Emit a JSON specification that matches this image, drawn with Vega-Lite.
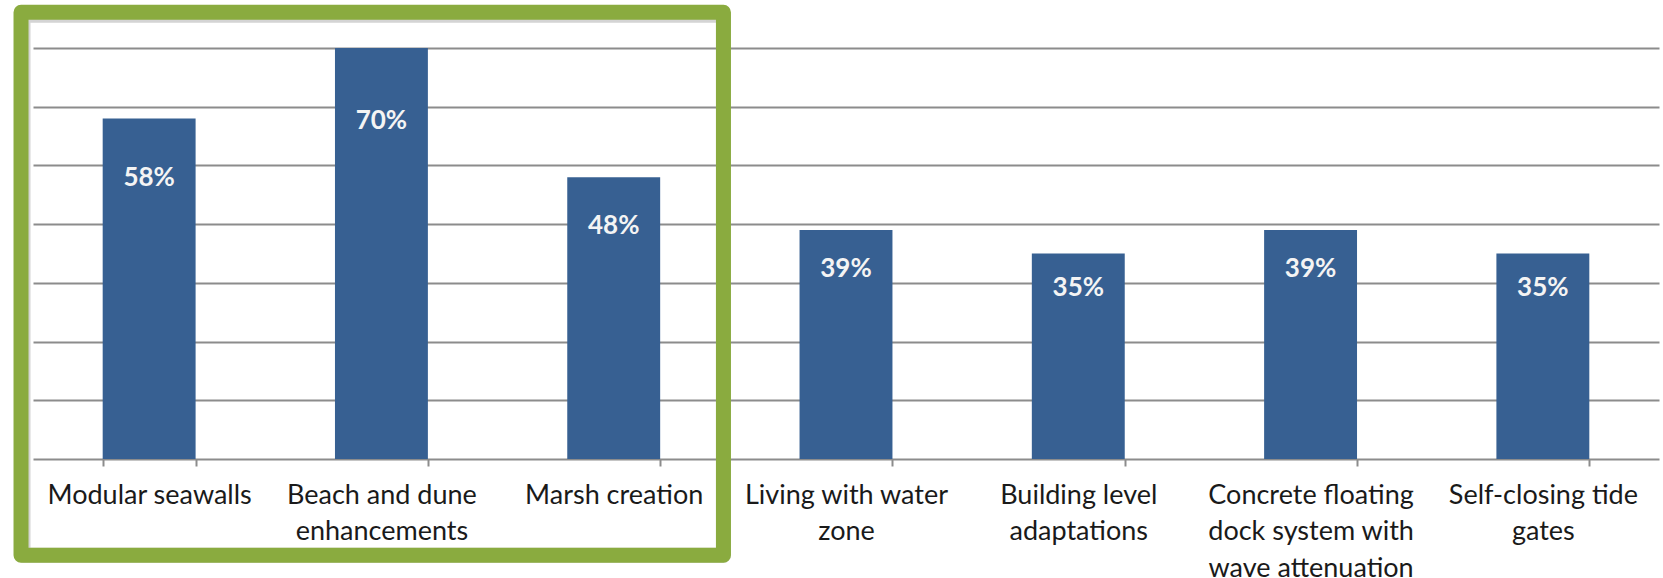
{
  "$schema": "https://vega.github.io/schema/vega-lite/v6.json",
  "width": 1626,
  "height": 411,
  "autosize": {"type": "none"},
  "padding": {"left": 33, "top": 48, "right": 4, "bottom": 119},
  "background": "white",
  "config": {"view": {"stroke": null}},
  "datasets": {
    "bars": [
      {"option": "Modular seawalls", "share": 0.58},
      {"option": "Beach and dune enhancements", "share": 0.70},
      {"option": "Marsh creation", "share": 0.48},
      {"option": "Living with water zone", "share": 0.39},
      {"option": "Building level adaptations", "share": 0.35},
      {"option": "Concrete floating dock system with wave attenuation", "share": 0.39},
      {"option": "Self-closing tide gates", "share": 0.35}
    ],
    "highlight": [
      {"from": "Modular seawalls", "to": "Marsh creation"}
    ]
  },
  "resolve": {"scale": {"y": "independent"}},
  "layer": [
    {
      "layer": [
        {
          "data": {"name": "bars"},
          "mark": {"type": "bar", "color": "#376092"},
          "encoding": {
            "x": {
              "field": "option",
              "type": "nominal",
              "sort": null,
              "scale": {
                "domain": ["Modular seawalls", "Beach and dune enhancements", "Marsh creation", "Living with water zone", "Building level adaptations", "Concrete floating dock system with wave attenuation", "Self-closing tide gates"],
                "paddingInner": 0.6,
                "paddingOuter": 0.3
              },
              "axis": {
                "title": null,
                "labelAngle": 0,
                "tickBand": "extent",
                "domainColor": "#8c8c8c",
                "domainWidth": 2,
                "tickColor": "#8c8c8c",
                "tickWidth": 2,
                "tickSize": 7,
                "labelPadding": 16,
                "labelFont": "Lato",
                "labelFontSize": 27,
                "labelColor": "#1a1a1a",
                "labelLineHeight": 36.5,
                "labelLimit": 0,
                "labelOverlap": false,
                "labelExpr": "datum.value == 'Beach and dune enhancements' ? ['Beach and dune', 'enhancements'] : datum.value == 'Living with water zone' ? ['Living with water', 'zone'] : datum.value == 'Building level adaptations' ? ['Building level', 'adaptations'] : datum.value == 'Concrete floating dock system with wave attenuation' ? ['Concrete floating', 'dock system with', 'wave attenuation'] : datum.value == 'Self-closing tide gates' ? ['Self-closing tide', 'gates'] : datum.value"
              }
            },
            "y": {
              "field": "share",
              "type": "quantitative",
              "scale": {"domain": [0, 0.7], "nice": false},
              "axis": {
                "title": null,
                "labels": false,
                "ticks": false,
                "domain": false,
                "values": [0.1, 0.2, 0.3, 0.4, 0.5, 0.6, 0.7],
                "gridColor": "#8c8c8c",
                "gridWidth": 2
              }
            }
          }
        },
        {
          "data": {"name": "highlight"},
          "mark": {
            "type": "rect",
            "filled": false,
            "stroke": "#b8b8b8",
            "strokeOpacity": 0.6,
            "strokeWidth": 15,
            "strokeJoin": "round",
            "xOffset": 2,
            "yOffset": 3
          },
          "encoding": {
            "x": {"field": "from", "type": "nominal", "bandPosition": -0.879},
            "x2": {"field": "to", "bandPosition": 1.681},
            "y": {"datum": 0.761},
            "y2": {"datum": -0.164}
          }
        },
        {
          "data": {"name": "highlight"},
          "mark": {
            "type": "rect",
            "filled": false,
            "stroke": "#8aab3f",
            "strokeWidth": 15,
            "strokeJoin": "round"
          },
          "encoding": {
            "x": {"field": "from", "type": "nominal", "bandPosition": -0.879},
            "x2": {"field": "to", "bandPosition": 1.681},
            "y": {"datum": 0.761},
            "y2": {"datum": -0.164}
          }
        }
      ]
    },
    {
      "data": {"name": "bars"},
      "mark": {
        "type": "text",
        "font": "Lato",
        "fontWeight": "bold",
        "fontSize": 26,
        "color": "#f4f4f4",
        "baseline": "middle",
        "align": "center",
        "dy": -4
      },
      "encoding": {
        "x": {"field": "option", "type": "nominal", "sort": null},
        "y": {
          "field": "share",
          "type": "quantitative",
          "scale": {"domain": [0, 0.8618], "nice": false, "zero": true},
          "axis": null
        },
        "text": {"field": "share", "type": "quantitative", "format": ".0%"}
      }
    }
  ]
}
